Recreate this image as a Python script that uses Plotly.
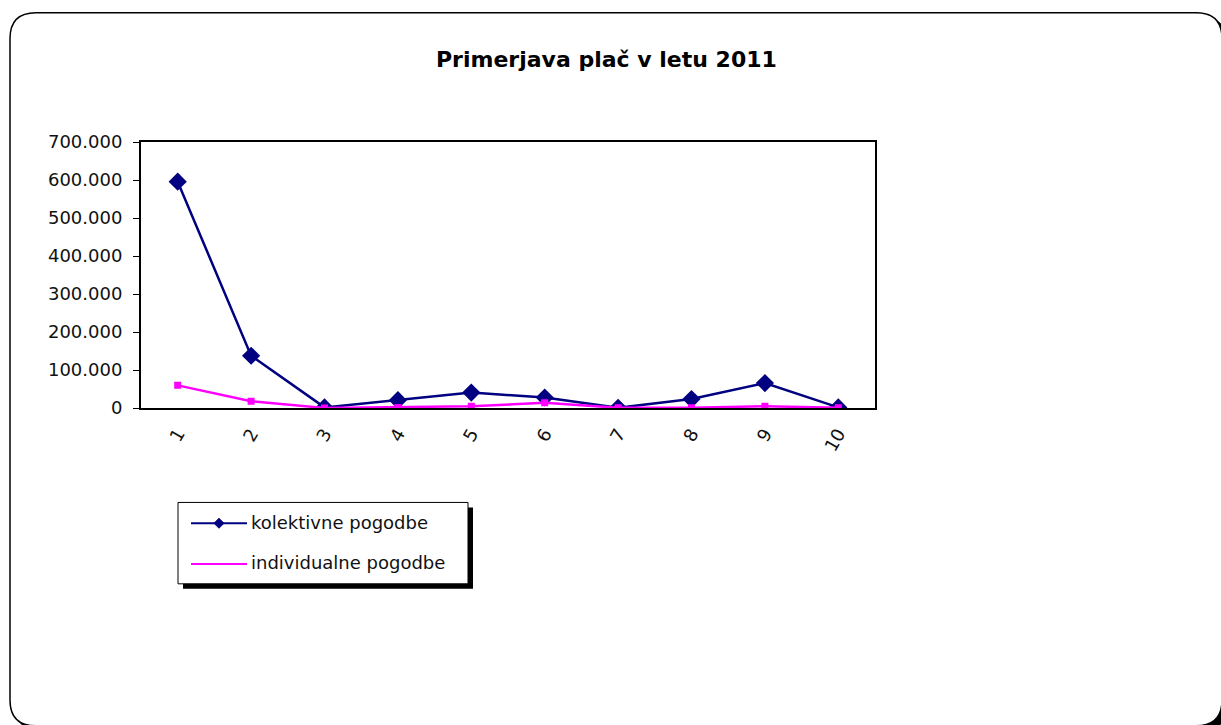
import plotly.graph_objects as go

W, H = 1221, 725

# Data
categories = ["1", "2", "3", "4", "5", "6", "7", "8", "9", "10"]
kolektivne = [596000, 138000, 2000, 21000, 41000, 28000, 1000, 24000, 66000, 2000]
individualne = [60000, 18000, 500, 2000, 5000, 14000, 1000, 1000, 5000, 1000]
y_ticks = [0, 100000, 200000, 300000, 400000, 500000, 600000, 700000]

title_text = "Primerjava plač v letu 2011"
name_k = "kolektivne pogodbe"
name_i = "individualne pogodbe"

NAVY = "#000080"
PINK = "#FF00FF"
FONT = "DejaVu Sans, Verdana, sans-serif"

# page offset/scale of the rendered figure in the vertical direction
V_OFF, V_SCALE = 7.83, 0.9784


def px(x):
    return x / W


def py(y):
    return 1 - ((y - V_OFF) / V_SCALE) / H


def rounded_path(x0, y0, x1, y1, r):
    p = [
        (x0 + r, y0), (x1 - r, y0), (x1, y0), (x1, y0 + r),
        (x1, y1 - r), (x1, y1), (x1 - r, y1),
        (x0 + r, y1), (x0, y1), (x0, y1 - r),
        (x0, y0 + r), (x0, y0), (x0 + r, y0),
    ]
    f = lambda a: f"{px(a[0]):.5f},{py(a[1]):.5f}"
    return (f"M{f(p[0])} L{f(p[1])} Q{f(p[2])} {f(p[3])} L{f(p[4])} "
            f"Q{f(p[5])} {f(p[6])} L{f(p[7])} Q{f(p[8])} {f(p[9])} "
            f"L{f(p[10])} Q{f(p[11])} {f(p[12])} Z")


def diamond_path(cx, cy, r):
    pts = [(cx, cy - r), (cx + r, cy), (cx, cy + r), (cx - r, cy)]
    return "M" + " L".join(f"{px(a):.5f},{py(b):.5f}" for a, b in pts) + " Z"


fig = go.Figure()

fig.add_trace(go.Scatter(
    x=categories, y=kolektivne, mode="lines+markers", name=name_k,
    line=dict(color=NAVY, width=2.5),
    marker=dict(symbol="diamond", size=14, color=NAVY),
    showlegend=False,
))
fig.add_trace(go.Scatter(
    x=categories, y=individualne, mode="lines+markers", name=name_i,
    line=dict(color=PINK, width=2.5),
    marker=dict(symbol="square", size=7, color=PINK),
    showlegend=False,
))

shapes = []
# chart frame with shadow
shapes.append(dict(type="path", xref="paper", yref="paper", layer="below",
                   path=rounded_path(15, 14, 1227, 733, 26),
                   fillcolor="black", line=dict(color="black", width=1)))
shapes.append(dict(type="path", xref="paper", yref="paper", layer="below",
                   path=rounded_path(10, 9.5, 1222, 728, 26),
                   fillcolor="white", line=dict(color="black", width=1.5)))

# legend box with shadow
lx0, ly0, lx1, ly1 = 178, 503, 468, 585
shapes.append(dict(type="rect", xref="paper", yref="paper",
                   x0=px(lx0 + 5), x1=px(lx1 + 5), y0=py(ly0 + 5), y1=py(ly1 + 5),
                   fillcolor="black", line=dict(width=0)))
shapes.append(dict(type="rect", xref="paper", yref="paper",
                   x0=px(lx0), x1=px(lx1), y0=py(ly0), y1=py(ly1),
                   fillcolor="white", line=dict(color="black", width=1)))
# legend line samples
for yy, col in ((524, NAVY), (565, PINK)):
    shapes.append(dict(type="line", xref="paper", yref="paper",
                       x0=px(191), x1=px(247), y0=py(yy), y1=py(yy),
                       line=dict(color=col, width=2)))
shapes.append(dict(type="path", xref="paper", yref="paper",
                   path=diamond_path(219, 524, 5),
                   fillcolor=NAVY, line=dict(color=NAVY, width=1)))

annotations = [
    dict(text=f"<b>{title_text}</b>", x=px(606), y=py(57), xref="paper", yref="paper",
         showarrow=False, xanchor="center", yanchor="middle",
         font=dict(family=FONT, size=22, color="black")),
    dict(text=name_k, x=px(249), y=py(523), xref="paper", yref="paper",
         showarrow=False, xanchor="left", yanchor="middle",
         font=dict(family=FONT, size=18, color="#111")),
    dict(text=name_i, x=px(249), y=py(564), xref="paper", yref="paper",
         showarrow=False, xanchor="left", yanchor="middle",
         font=dict(family=FONT, size=18, color="#111")),
]

fig.update_layout(
    width=W, height=H,
    margin=dict(l=0, r=0, t=0, b=0),
    paper_bgcolor="white", plot_bgcolor="white",
    separators=",.",
    font=dict(family=FONT, size=18, color="#111"),
    shapes=shapes, annotations=annotations,
    xaxis=dict(
        type="category", domain=[px(141), px(875)], range=[-0.5, 9.5],
        showgrid=False, zeroline=False, showline=True, linecolor="black",
        linewidth=2, mirror=True, ticks="", tickangle=-60,
        ticklabelstandoff=6, tickfont=dict(size=18, color="#111"),
    ),
    yaxis=dict(
        domain=[py(408), py(140)], range=[0, 700000], tickvals=y_ticks,
        tickformat=",d", showgrid=False, zeroline=False, showline=True,
        linecolor="black", linewidth=2, mirror=True, ticks="outside",
        ticklen=6, tickcolor="black", tickwidth=1, ticklabelstandoff=7,
        tickfont=dict(size=18, color="#111"),
    ),
)

fig.write_html("out.html")
